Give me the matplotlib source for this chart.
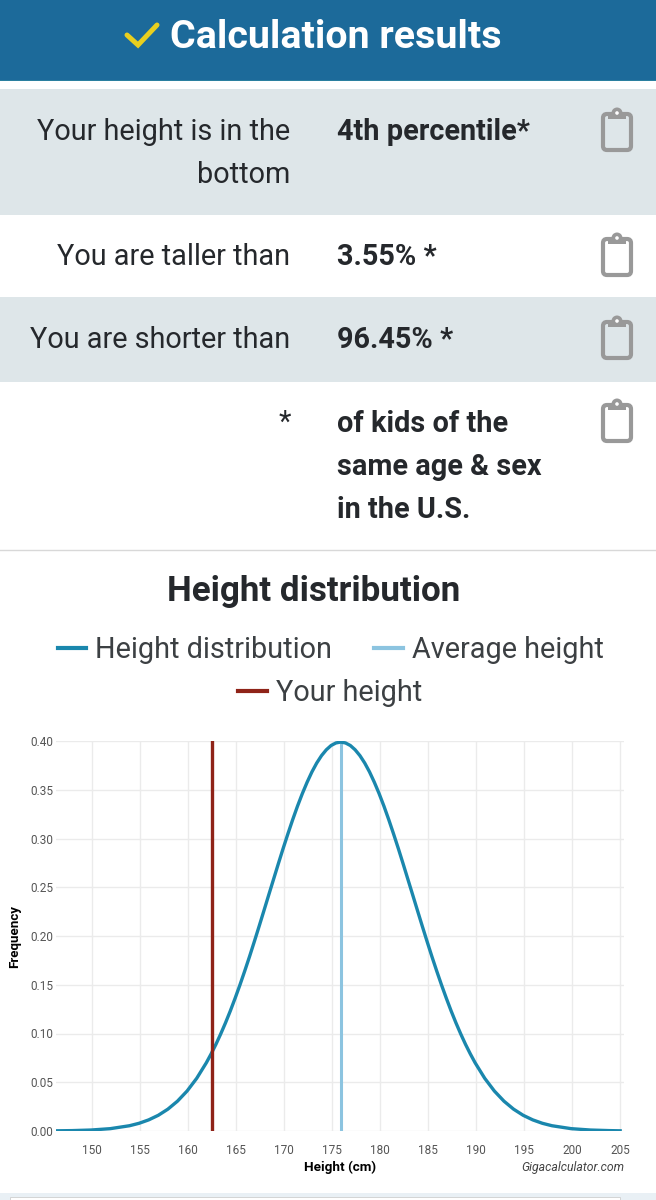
#!/usr/bin/env python3
# -*- coding: utf-8 -*-

import matplotlib
matplotlib.use('Agg')
import matplotlib.pyplot as plt
from matplotlib.patches import Rectangle, FancyBboxPatch, Circle

# curve values
heights = [146.25, 147.9, 149.9, 151.9, 153.9, 154.9, 155.9, 156.9, 157.9, 158.9, 159.9, 160.9, 161.9,
           162.4, 162.9, 163.4, 163.9, 164.4, 164.9, 165.4, 165.9, 166.4, 166.9, 167.4, 167.9, 168.4, 168.9,
           169.4, 169.9, 170.4, 170.9, 171.4, 171.9, 172.4, 172.9, 173.4, 173.9, 174.4, 174.9, 175.4, 175.9,
           176.4, 176.9, 177.4, 177.9, 178.4, 178.9, 179.4, 179.9, 180.4, 180.9, 181.4, 181.9, 182.4, 182.9,
           183.4, 183.9, 184.4, 184.9, 185.4, 185.9, 186.4, 186.9, 187.4, 187.9, 188.4, 188.9, 189.4, 189.9,
           190.9, 191.9, 192.9, 193.9, 194.9, 195.9, 196.9, 197.9, 199.9, 201.9, 203.9, 205.0]
frequency = [0.0002, 0.0004, 0.0010, 0.0024, 0.0054, 0.0079, 0.0114, 0.0161, 0.0224, 0.0306, 0.0410, 0.0540, 0.0699,
             0.0790, 0.0888, 0.0995, 0.1109, 0.1231, 0.1361, 0.1497, 0.1640, 0.1788, 0.1942, 0.2099, 0.2259, 0.2420,
             0.2580, 0.2740, 0.2897, 0.3048, 0.3194, 0.3332, 0.3460, 0.3577, 0.3683, 0.3774, 0.3850, 0.3910, 0.3954,
             0.3980, 0.3989, 0.3980, 0.3954, 0.3910, 0.3850, 0.3774, 0.3683, 0.3577, 0.3460, 0.3332, 0.3194, 0.3048,
             0.2897, 0.2740, 0.2580, 0.2420, 0.2259, 0.2099, 0.1942, 0.1788, 0.1640, 0.1497, 0.1361, 0.1231, 0.1109,
             0.0995, 0.0888, 0.0790, 0.0699, 0.0540, 0.0410, 0.0306, 0.0224, 0.0161, 0.0114, 0.0079, 0.0054, 0.0024,
             0.0010, 0.0004, 0.0002]
average_height = 175.9
your_height = 162.5
x_ticks = list(range(150, 210, 5))
y_ticks = [0.00, 0.05, 0.10, 0.15, 0.20, 0.25, 0.30, 0.35, 0.40]

row_labels = ['Your height is in the\nbottom', 'You are taller than', 'You are shorter than', '*']
row_values = ['4th percentile*', '3.55% *', '96.45% *', 'of kids of the\nsame age & sex\nin the U.S.']

W, H = 656, 1200
plt.rcParams['font.family'] = ['Roboto', 'DejaVu Sans']

fig = plt.figure(figsize=(W / 100, H / 100), dpi=100, facecolor='white')

# page furniture drawn in pixel coordinates
page = fig.add_axes([0, 0, 1, 1])
page.set_xlim(0, W)
page.set_ylim(H, 0)
page.axis('off')

page.add_patch(Rectangle((0, 0), W, 80, color='#1c6a9a', lw=0))
page.add_patch(Rectangle((0, 79.5), W, 1.5, color='#2a7f9f', lw=0))
page.add_patch(Rectangle((0, 89), W, 126, color='#dee6e9', lw=0))
page.add_patch(Rectangle((0, 297), W, 85, color='#dee6e9', lw=0))
page.plot([0, W], [549.5, 549.5], color='#d8d8d8', lw=1)
page.add_patch(Rectangle((0, 1193), W, 7, color='#e9f0f5', lw=0))
page.add_patch(Rectangle((10, 1197), 610, 3, color='white', ec='#d4d4d4', lw=0.7))

page.plot([127, 138, 157], [35, 45, 25], color='#e8cf1f', lw=3.6, solid_capstyle='round', solid_joinstyle='miter')
page.text(336, 37, 'Calculation results', color='white', fontsize=28.4, fontweight='bold', ha='center', va='center')

label_y = [(132, 175), (257,), (340,), (423,)]
value_y = [(132,), (257,), (340,), (424, 467, 510)]
icon_y = [131, 256, 339, 422]
for label, value, ly, vy, iy in zip(row_labels, row_values, label_y, value_y, icon_y):
    for line, y in zip(label.split('\n'), ly):
        page.text(290.5, y, line, color='#25282c', fontsize=20.8, ha='right', va='center')
    for line, y in zip(value.split('\n'), vy):
        page.text(337, y, line, color='#25282c', fontsize=20.8, fontweight='bold', ha='left', va='center')
    page.add_patch(FancyBboxPatch((603, iy - 17), 28, 36, boxstyle='round,pad=0,rounding_size=4', fc='none',
                                  ec='#999999', lw=3))
    page.add_patch(Rectangle((608, iy - 18), 18, 6, color='#999999', lw=0))
    page.add_patch(Circle((617, iy - 18), 5.5, fc='#999999', ec='none'))
    page.add_patch(Circle((617, iy - 18), 1.8, fc='white', ec='none'))

page.text(314, 591, 'Height distribution', color='#25282c', fontsize=25.2, fontweight='bold', ha='center', va='center')

# chart
left, right, top, bottom = 56, 624, 741, 1131
ax = fig.add_axes([left / W, 1 - bottom / H, (right - left) / W, (bottom - top) / H])
ax.set_facecolor('none')
curve, = ax.plot(heights, frequency, color='#1a87ad', lw=2.4, label='Height distribution', zorder=4)
avg = ax.axvline(average_height, color='#8cc4e0', lw=2.2, label='Average height', zorder=3)
you = ax.axvline(your_height, color='#8f2318', lw=2.4, label='Your height', zorder=5)

ax.set_xlim(146.25, 205.4)
ax.set_ylim(0, 0.40)
ax.set_xticks(x_ticks)
ax.set_yticks(y_ticks)
ax.set_yticklabels(['%.2f' % v for v in y_ticks])
ax.grid(color='#ebebeb', lw=1)
ax.set_axisbelow(True)
for s in ax.spines.values():
    s.set_visible(False)
ax.tick_params(length=0, labelsize=8.5, labelcolor='#555555', pad=2)
ax.tick_params(axis='x', pad=9)

page.text(15, 936, 'Frequency', color='black', fontsize=9.6, fontweight='bold', rotation=90, ha='center', va='center')
page.text(340, 1167, 'Height (cm)', color='black', fontsize=9.7, fontweight='bold', ha='center', va='center')
page.text(624, 1167, 'Gigacalculator.com', color='#444444', fontsize=8.8, style='italic', ha='right', va='center')

leg_kw = dict(frameon=False, fontsize=20.8, handlelength=1.0, handletextpad=0.3, labelcolor='#3c4043',
              borderpad=0, borderaxespad=0, loc='center')
leg1 = fig.legend(handles=[curve, avg], ncol=2, columnspacing=1.45,
                  bbox_to_anchor=(330.5 / W, 1 - 650 / H), **leg_kw)
leg2 = fig.legend(handles=[you], bbox_to_anchor=(330 / W, 1 - 693 / H), **leg_kw)
for leg in (leg1, leg2):
    for h in leg.get_lines():
        h.set_linewidth(3)

fig.savefig('out.png', dpi=100)
